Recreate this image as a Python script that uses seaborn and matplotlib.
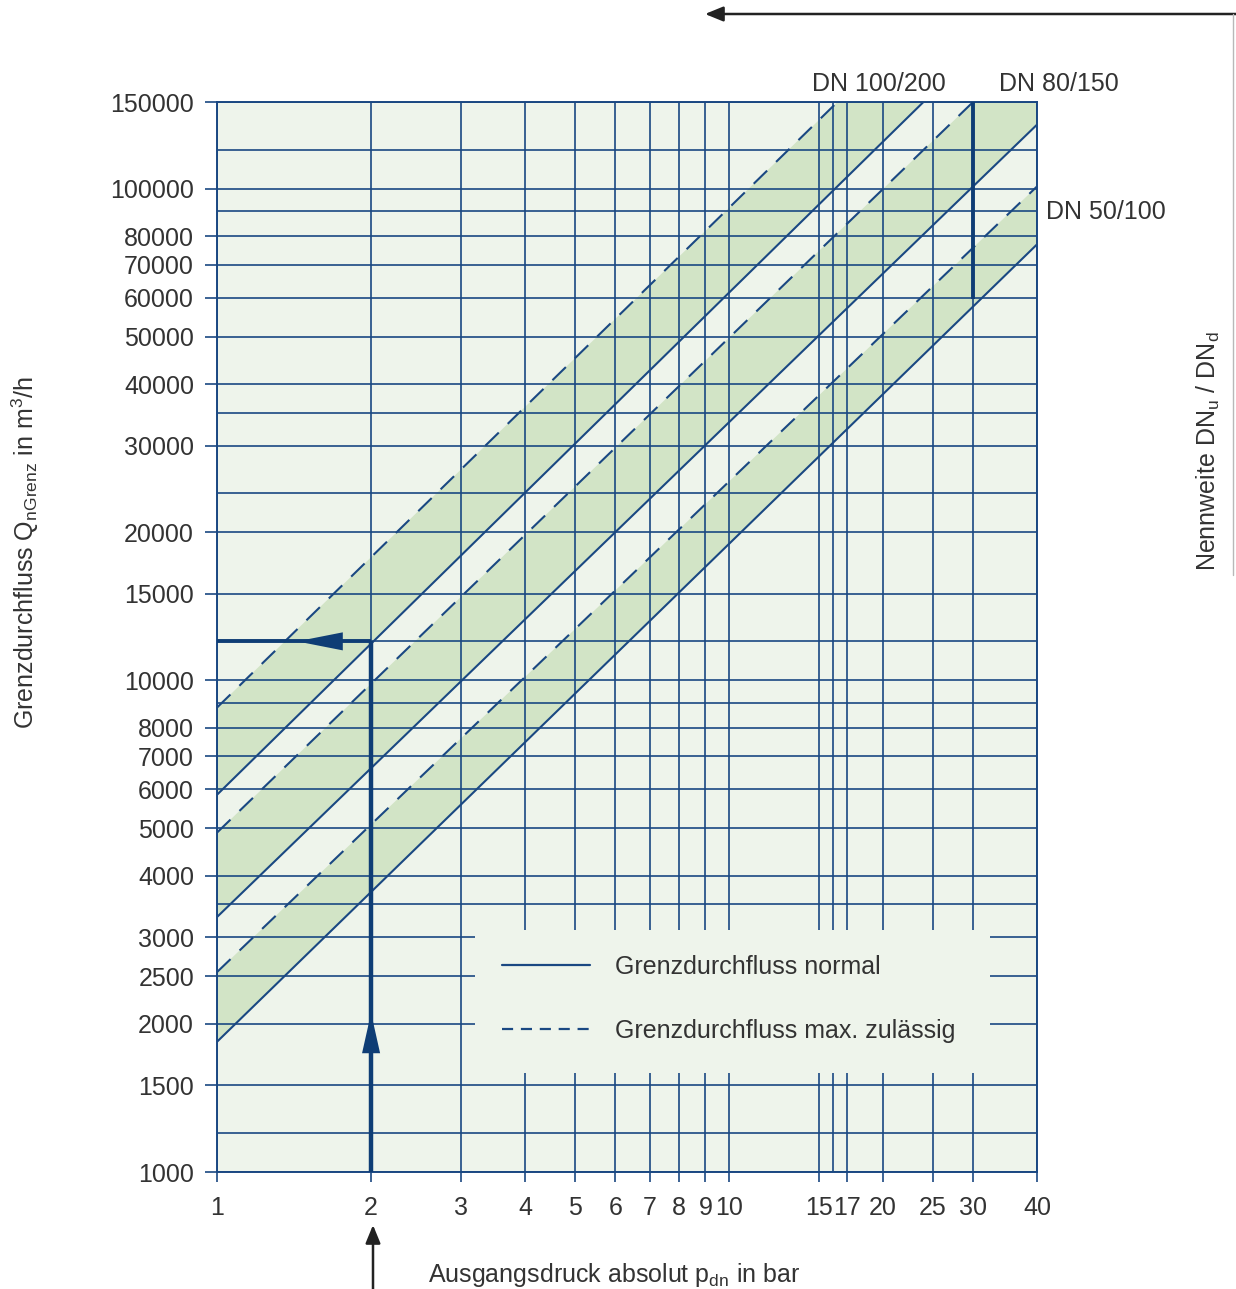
import pandas as pd
import matplotlib.pyplot as plt
from matplotlib.patches import Rectangle, FancyArrowPatch
from matplotlib.lines import Line2D
import seaborn as sns

# axis ticks / grid
x_ticks = [1, 2, 3, 4, 5, 6, 7, 8, 9, 10, 15, 17, 20, 25, 30, 40]
x_extra = [16]
y_ticks = [1000, 1500, 2000, 2500, 3000, 4000, 5000, 6000, 7000, 8000, 10000,
           15000, 20000, 30000, 40000, 50000, 60000, 70000, 80000, 100000, 150000]
y_extra = [1200, 3500, 9000, 12000, 24000, 35000, 90000, 120000]

# limit flow lines, read where they enter / leave the frame
dn_names = ['DN 100/200', 'DN 80/150', 'DN 50/100']
normal_p = [[1, 24], [1, 40], [1, 40]]
normal_q = [[5850, 150000], [3300, 134900], [1840, 77000]]
max_p = [[1, 16.3], [1, 30], [1, 40]]
max_q = [[8800, 150000], [4900, 150000], [2550, 101000]]

# reading example: 2 bar -> 12000 m3/h, and DN 80/150 mark at 30 bar
ex_p = 2
ex_q = 12000
mark_p = 30
mark_q = [59500, 150000]

BLUE = '#1a4882'
DARK = '#0e3d75'
BG = '#eef4eb'
GREEN = '#d2e4c6'
TXT = '#333333'
W, H = 1236, 1289
fs = 18

sns.set_theme(style='white')
plt.rcParams['font.family'] = ['Liberation Sans', 'DejaVu Sans']
plt.rcParams['mathtext.default'] = 'regular'

fig = plt.figure(figsize=(W / 100, H / 100), dpi=100)
ax = fig.add_axes([217 / W, 1 - 1172 / H, 820 / W, 1070 / H])
ax.set_xscale('log')
ax.set_yscale('log')
ax.set_facecolor(BG)

rows = []
for i, name in enumerate(dn_names):
    for p, q in zip(normal_p[i], normal_q[i]):
        rows.append(dict(dn=name, kind='normal', p=p, q=q))
    for p, q in zip(max_p[i], max_q[i]):
        rows.append(dict(dn=name, kind='max', p=p, q=q))
lines = pd.DataFrame(rows)
lines['line'] = lines['dn'] + ' ' + lines['kind']

# green bands between max and normal line
for i in range(3):
    bx = max_p[i] + normal_p[i][::-1]
    by = max_q[i] + normal_q[i][::-1]
    if max_q[i][-1] == y_ticks[-1] and normal_q[i][-1] < y_ticks[-1]:
        bx.insert(2, x_ticks[-1])
        by.insert(2, y_ticks[-1])
    ax.fill(bx, by, color=GREEN, lw=0, zorder=1)

sns.lineplot(data=lines, x='p', y='q', units='line', estimator=None, style='kind',
             dashes={'normal': '', 'max': (9, 6)}, color=BLUE, lw=1.5,
             legend=False, ax=ax, zorder=2)

ax.set_xlim(x_ticks[0], x_ticks[-1])
ax.set_ylim(y_ticks[0], y_ticks[-1])
ax.set_xlabel('')
ax.set_ylabel('')

ax.set_xticks(x_ticks, labels=[str(v) for v in x_ticks])
ax.set_xticks(x_extra, labels=[''] * len(x_extra), minor=True)
ax.set_yticks(y_ticks, labels=[str(v) for v in y_ticks])
ax.set_yticks(y_extra, labels=[''] * len(y_extra), minor=True)
ax.set_axisbelow('line')
ax.grid(which='both', color=BLUE, lw=1.2)
ax.tick_params(which='major', direction='out', color=BLUE, width=1.2,
               labelsize=fs, labelcolor=TXT, bottom=True, left=True)
ax.tick_params(axis='x', which='major', length=7, pad=10)
ax.tick_params(axis='y', which='major', length=8.5, pad=8)
ax.tick_params(which='minor', length=0)
for s in ax.spines.values():
    s.set_color(BLUE)
    s.set_linewidth(1.4)

# legend box blanks out the grid
ax.add_patch(Rectangle((0.3146, 0.0925), 0.6281, 0.1337, transform=ax.transAxes,
                       facecolor=BG, edgecolor='none', zorder=2.2))
h_norm = Line2D([], [], color=BLUE, lw=1.6)
h_max = Line2D([], [], color=BLUE, lw=1.6, linestyle=(0, (5, 3.5)))
leg = ax.legend([h_norm, h_max], ['Grenzdurchfluss normal', 'Grenzdurchfluss max. zulässig'],
                loc='center left', bbox_to_anchor=(0.3476, 0.1617), frameon=False,
                fontsize=fs, handlelength=3.5, handletextpad=1.0, labelspacing=1.6,
                borderpad=0, borderaxespad=0)
for t in leg.get_texts():
    t.set_color(TXT)
leg.set_zorder(5)

# reading example
ax.plot([ex_p, ex_p], [y_ticks[0], ex_q], color=DARK, lw=3.2, zorder=3, solid_capstyle='butt')
ax.plot([x_ticks[0], ex_p], [ex_q, ex_q], color=DARK, lw=2.8, zorder=3, solid_capstyle='butt')
ax.plot([mark_p, mark_p], mark_q, color=DARK, lw=2.8, zorder=3, solid_capstyle='butt')
ax.annotate('', xy=(ex_p, 2106), xytext=(ex_p, 1400),
            arrowprops=dict(arrowstyle='-|>,head_length=2.9,head_width=0.65', color=DARK,
                            lw=0, mutation_scale=10, shrinkA=0, shrinkB=0), zorder=4)
ax.annotate('', xy=(1.433, ex_q), xytext=(1.95, ex_q),
            arrowprops=dict(arrowstyle='-|>,head_length=3.3,head_width=0.65', color=DARK,
                            lw=0, mutation_scale=10, shrinkA=0, shrinkB=0), zorder=4)

# labels
fig.text(879 / W, 1 - 84 / H, dn_names[0], ha='center', va='center', fontsize=fs, color=TXT)
fig.text(1059 / W, 1 - 84 / H, dn_names[1], ha='center', va='center', fontsize=fs, color=TXT)
fig.text(1046 / W, 1 - 212 / H, dn_names[2], ha='left', va='center', fontsize=fs, color=TXT)
fig.text(25 / W, 1 - 553 / H, r'Grenzdurchfluss Q$_{nGrenz}$ in m$^{3}$/h', rotation=90,
         ha='center', va='center', fontsize=fs, color=TXT)
fig.text(1208 / W, 1 - 451 / H, r'Nennweite DN$_{u}$ / DN$_{d}$', rotation=90,
         ha='center', va='center', fontsize=fs, color=TXT)
fig.text(428 / W, 1 - 1275 / H, r'Ausgangsdruck absolut p$_{dn}$ in bar',
         ha='left', va='center', fontsize=fs, color=TXT)

# page pointers
fig.add_artist(FancyArrowPatch((1.0, 1 - 14 / H), (705 / W, 1 - 14 / H), transform=fig.transFigure,
                               arrowstyle='-|>,head_length=1.1,head_width=0.45', mutation_scale=10,
                               color='#222222', lw=1.8, shrinkA=0, shrinkB=0))
fig.add_artist(Line2D([1233 / W, 1233 / W], [1 - 14 / H, 1 - 575 / H], transform=fig.transFigure,
                      color='#b8b8b8', lw=1))
fig.add_artist(FancyArrowPatch((373 / W, 0), (373 / W, 1 - 1225 / H), transform=fig.transFigure,
                               arrowstyle='-|>,head_length=1.1,head_width=0.45', mutation_scale=10,
                               color='#222222', lw=1.8, shrinkA=0, shrinkB=0))

fig.savefig('out.png', dpi=100)
